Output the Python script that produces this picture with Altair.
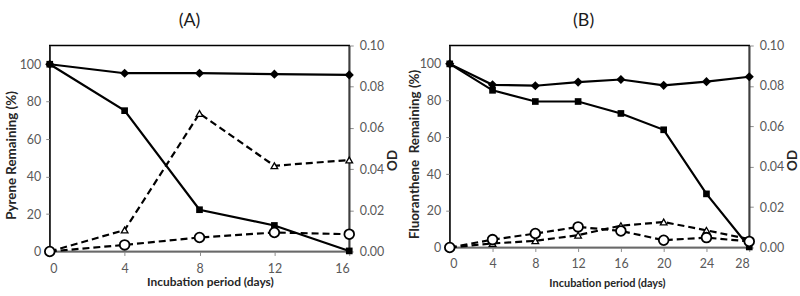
import altair as alt
import pandas as pd

days_a = [0, 4, 8, 12, 16]
pyr_diamond = [100, 95.2, 95.2, 94.7, 94.3]
pyr_square = [100, 75.2, 22.3, 13.9, 0.3]
od_tri_a = [0, 0.0104, 0.067, 0.0416, 0.0444]
od_circ_a = [0, 0.0032, 0.0068, 0.0092, 0.0084]

days_b = [0, 4, 8, 12, 16, 20, 24, 28]
flu_diamond = [100, 88.6, 88.1, 90.1, 91.5, 88.3, 90.3, 93.0]
flu_square = [100, 85.6, 79.5, 79.5, 73.0, 64.1, 29.2, 0.3]
od_tri_b = [0, 0.002, 0.0033, 0.0061, 0.0108, 0.0126, 0.0085, 0.0041]
od_circ_b = [0, 0.0039, 0.0069, 0.0102, 0.0082, 0.0036, 0.0049, 0.003]

FONT = "Lato"
LABEL_C = "#595959"
TITLE_C = "#262626"


def panel(days, d1, d2, t1, c1, xmax, left_title, title, title_dx, h,
          xlab_pad, xtitle_pad, xtitle_x, xtitle_size, ltitle_x, ltitle_y):
    df = pd.DataFrame({"day": days, "diamond": d1, "square": d2,
                       "tri": t1, "circ": c1})
    base = alt.Chart(df)
    x = alt.X("day:Q",
              scale=alt.Scale(domain=[0, xmax], nice=False),
              axis=alt.Axis(values=list(range(0, xmax + 1, 4)),
                            title="Incubation period (days)",
                            grid=False, domainColor="#8c8c8c", domainWidth=1.5,
                            tickColor="#8c8c8c", tickSize=4,
                            labelColor=LABEL_C, labelFont=FONT, labelFontSize=12.5,
                            labelPadding=xlab_pad,
                            titleFont=FONT, titleFontSize=xtitle_size, titleFontWeight="bold",
                            titleColor=TITLE_C, titlePadding=xtitle_pad,
                            titleX=xtitle_x))
    yl_axis = alt.Axis(orient="left", values=[0, 20, 40, 60, 80, 100],
                       title=left_title, grid=False,
                       domainColor="#404040", domainWidth=1.5,
                       tickColor="#8c8c8c", tickSize=4,
                       labelColor=LABEL_C, labelFont=FONT, labelFontSize=12.5,
                       labelPadding=5,
                       titleFont=FONT, titleFontSize=13.4, titleFontWeight="bold",
                       titleColor=TITLE_C, titleAngle=270, titleBaseline="middle",
                       titleX=ltitle_x, titleY=ltitle_y)
    yl_scale = alt.Scale(domain=[0, 110], nice=False)
    yr_axis = alt.Axis(orient="right", values=[0, 0.02, 0.04, 0.06, 0.08, 0.1],
                       format=".2f", title="OD", grid=False,
                       domainColor="#404040", domainWidth=1.5,
                       tickColor="#8c8c8c", tickSize=4,
                       labelColor=LABEL_C, labelFont=FONT, labelFontSize=12.5,
                       labelPadding=6,
                       titleFont=FONT, titleFontSize=13.4, titleFontWeight="bold",
                       titleColor=TITLE_C, titleAngle=270, titleBaseline="middle",
                       titleX=43, titleY=115)
    yr_scale = alt.Scale(domain=[0, 0.1], nice=False)

    def yl(f):
        return alt.Y(f"{f}:Q", scale=yl_scale, axis=yl_axis)

    def yr(f):
        return alt.Y(f"{f}:Q", scale=yr_scale, axis=yr_axis)

    left = alt.layer(
        base.mark_line(color="black", strokeWidth=2.2).encode(x=x, y=yl("diamond")),
        base.mark_line(color="black", strokeWidth=2.2).encode(x=x, y=yl("square")),
        base.mark_point(shape="diamond", filled=True, color="black", size=85,
                        opacity=1).encode(x=x, y=yl("diamond")),
        base.mark_point(shape="square", filled=True, color="black", size=45,
                        opacity=1).encode(x=x, y=yl("square")),
    )
    right = alt.layer(
        base.mark_line(color="black", strokeWidth=2.2, strokeDash=[7, 4]).encode(x=x, y=yr("tri")),
        base.mark_line(color="black", strokeWidth=2.2, strokeDash=[7, 4]).encode(x=x, y=yr("circ")),
        base.mark_point(shape="triangle-up", filled=True, fill="white", stroke="black",
                        strokeWidth=1.3, size=45, opacity=1).encode(x=x, y=yr("tri")),
        base.mark_point(shape="circle", filled=True, fill="white", stroke="black",
                        strokeWidth=1.8, size=95, opacity=1).encode(x=x, y=yr("circ")),
    )
    return alt.layer(left, right).resolve_scale(y="independent").properties(
        width=301, height=h,
        title=alt.TitleParams(title, font=FONT, fontSize=18, fontWeight="normal",
                              color="#1a1a1a", offset=10, dx=title_dx),
    )


pa = panel(days_a, pyr_diamond, pyr_square, od_tri_a, od_circ_a, 16,
           "Pyrene Remaining (%)", "(A)", -10, 207, 7, 2, 161, 12, -38, 110)
pb = panel(days_b, flu_diamond, flu_square, od_tri_b, od_circ_b, 28,
           "Fluoranthene\u00a0 Remaining (%)", "(B)", -16, 203, 6, 8, 158, 11, -35, 109)

chart = alt.hconcat(pa, pb, spacing=7).properties(
    padding={"left": 4, "top": 10, "right": 0, "bottom": 2},
    background="white",
).configure_view(stroke="black", strokeWidth=1.5)

chart.save("out.html", embed_options={"renderer": "svg", "actions": False})
